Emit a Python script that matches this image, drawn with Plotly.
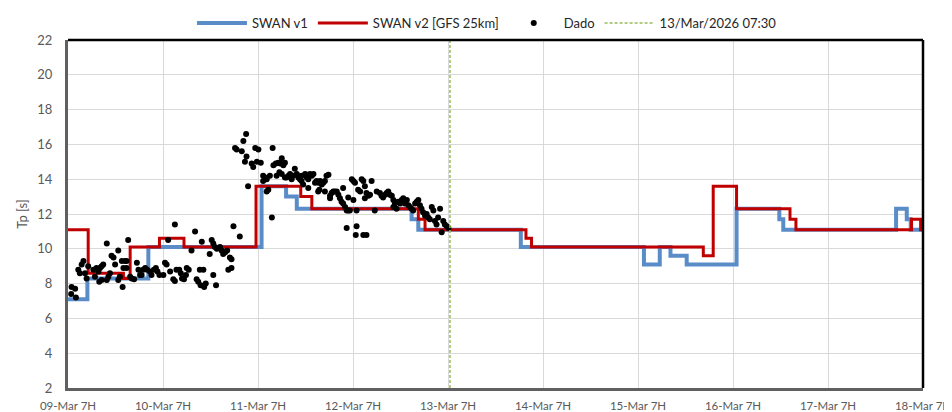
import pandas as pd
import plotly.graph_objects as go

BASE = pd.Timestamp("2026-03-09 07:00")

# SWAN v1 step series: hours after 09-Mar 07:00 at which a new value starts
v1_hours = [0, 4.9, 20.3, 48.9, 55.1, 57.8, 86.8, 88.5, 114.4, 145.5, 149.5, 152.2,
            156.3, 168.9, 179.7, 180.7, 209.2, 211.9, 212.9, 216]
v1_tp = [7.1, 8.3, 10.1, 13.6, 13.0, 12.3, 11.7, 11.1, 10.1, 9.1, 10.1, 9.6,
         9.1, 12.3, 11.7, 11.1, 12.3, 11.7, 11.1, 11.1]

# SWAN v2 [GFS 25km]
v2_hours = [0, 5.1, 14.0, 15.7, 23.1, 29.3, 47.5, 58.8, 61.6, 88.5, 90.2, 115.7,
            117.1, 160.5, 163.0, 168.9, 182.4, 183.9, 213.1, 215.4, 216]
v2_tp = [11.1, 8.6, 8.3, 10.1, 10.6, 10.1, 13.6, 13.0, 12.3, 11.7, 11.1, 10.6,
         10.1, 9.6, 13.6, 12.3, 11.7, 11.1, 11.7, 11.1, 11.1]

# Observations (Dado)
obs = [
    (0.9, 7.8), (1.8, 7.7), (0.8, 7.4), (2.0, 7.2),
    (2.6, 8.8), (3.45, 9.1), (3.9, 9.3), (3.0, 8.6), (4.3, 8.6), (5.1, 9.0), (4.7, 8.3),
    (6.4, 8.8), (7.2, 8.9), (7.7, 8.7), (8.1, 8.9), (8.5, 9.0), (8.9, 9.1), (6.8, 8.4),
    (7.9, 8.1), (8.5, 8.2), (9.8, 8.2), (10.2, 8.4), (10.6, 8.6), (9.8, 10.3), (11.0, 9.6),
    (11.5, 9.5), (11.9, 9.1), (12.7, 9.9), (13.6, 9.3), (14.0, 8.9), (13.1, 8.4), (12.7, 8.2),
    (13.8, 7.8), (14.4, 9.3), (14.8, 9.3), (15.2, 10.5), (14.8, 8.9), (15.7, 8.4), (16.1, 8.3),
    (16.7, 8.25), (17.4, 9.2), (17.8, 8.8), (18.2, 8.5), (18.6, 8.5), (19.0, 8.8), (19.5, 8.9),
    (20.0, 8.8), (20.7, 8.7), (21.1, 8.5), (21.7, 8.8), (22.2, 8.9), (22.6, 8.7), (23.1, 8.5),
    (24.1, 8.5), (24.5, 9.2), (24.9, 9.1), (25.8, 8.7), (26.6, 8.25), (27.0, 8.15), (27.4, 8.8),
    (28.1, 8.8), (28.5, 8.6), (28.8, 8.3), (29.3, 8.25), (29.8, 8.5), (30.0, 8.9), (30.5, 8.8),
    (27.0, 11.4), (25.3, 10.5), (32.1, 11.0), (31.2, 9.9), (32.5, 8.25), (32.9, 8.1), (33.5, 7.9),
    (34.4, 7.8), (34.8, 8.0), (33.3, 8.8), (34.2, 8.8), (36.7, 8.5), (37.4, 7.9), (33.8, 10.4),
    (35.8, 9.7), (36.3, 10.5), (36.7, 10.3), (37.1, 10.1), (37.6, 10.0), (38.4, 10.1), (38.8, 9.9),
    (39.2, 9.7), (39.7, 9.8), (40.2, 9.9), (40.9, 9.5), (41.3, 9.4), (40.5, 8.8), (41.3, 8.9),
    (41.8, 11.3), (43.4, 10.7), (45.5, 13.6), (42.2, 15.8), (42.6, 15.7), (43.9, 15.6),
    (44.7, 15.0), (45.1, 15.3), (46.4, 14.9), (46.8, 14.7), (47.7, 15.0), (47.3, 15.8),
    (48.1, 15.7), (44.3, 16.2), (45.0, 16.6),
    (48.7, 14.95), (49.3, 14.2), (49.8, 14.1), (50.2, 14.0), (51.0, 14.2), (49.3, 13.9),
    (50.6, 13.4), (50.2, 13.3), (51.7, 15.8), (51.5, 11.8),
    (51.9, 14.8), (52.5, 14.9), (53.1, 14.95), (53.6, 14.9), (54.0, 15.2), (54.4, 14.8),
    (54.8, 14.95), (53.4, 14.4), (54.0, 14.3), (52.7, 14.2), (54.8, 14.1), (55.2, 14.1),
    (55.7, 14.2), (56.1, 14.3), (56.5, 14.0), (56.9, 14.2), (57.3, 14.6), (57.8, 14.3),
    (58.2, 14.1), (58.6, 14.0), (59.0, 13.9), (59.4, 13.7), (59.0, 14.2), (59.9, 14.3),
    (60.3, 14.1), (60.7, 14.0), (61.1, 14.3), (61.6, 14.2), (62.0, 14.3), (60.7, 13.5),
    (62.4, 13.8), (62.8, 13.9), (63.2, 13.8), (63.7, 13.9), (64.1, 13.7), (64.5, 13.8),
    (64.9, 13.9), (65.3, 14.2), (65.8, 14.25), (63.2, 13.3), (63.5, 13.4),
    (64.9, 13.3), (66.2, 13.05), (66.6, 13.2), (67.0, 13.3), (67.4, 13.3), (67.9, 13.3),
    (68.3, 13.1), (66.2, 12.9), (68.7, 12.9), (69.1, 12.7), (69.5, 12.6), (70.0, 12.4),
    (69.5, 13.5), (70.4, 12.2), (70.8, 12.2), (71.2, 12.2), (71.7, 14.0), (72.1, 13.9),
    (72.5, 13.8), (70.8, 12.95), (72.1, 12.8), (72.9, 12.2), (73.3, 13.4), (73.8, 13.3),
    (74.2, 14.0), (74.6, 13.9), (75.0, 13.6), (75.4, 13.2), (75.9, 13.05), (76.3, 13.1),
    (75.0, 12.9), (76.7, 13.9), (77.5, 12.2), (78.0, 13.3), (78.8, 13.2), (79.2, 13.05),
    (79.6, 12.95), (80.1, 13.1), (80.5, 13.2), (80.9, 13.3), (81.3, 13.1), (81.8, 13.05),
    (82.2, 12.8), (82.6, 12.6), (82.2, 12.4), (83.0, 12.3), (83.4, 12.7), (83.9, 12.6),
    (84.3, 12.8), (84.7, 12.9), (85.1, 12.6), (85.6, 12.8), (86.0, 12.5), (86.4, 12.4),
    (86.8, 12.3), (87.2, 12.2), (87.7, 12.6), (88.1, 12.7), (88.5, 12.8), (88.9, 12.5),
    (89.3, 12.3), (89.7, 12.1), (90.2, 11.9), (90.6, 12.0), (91.0, 11.8), (91.4, 11.7),
    (91.9, 12.4), (92.3, 12.2), (92.7, 11.6), (93.1, 11.4), (93.5, 11.8), (94.0, 12.3),
    (94.4, 10.95), (94.8, 11.6), (95.2, 11.4), (95.7, 11.3), (96.1, 11.2),
    (70.4, 11.2), (72.9, 11.3), (72.7, 10.8), (74.6, 10.8), (75.4, 10.8),
]
obs_hours = [p[0] for p in obs]
obs_tp = [p[1] for p in obs]

marker_time = pd.Timestamp("2026-03-13 07:30")
marker_label = "13/Mar/2026 07:30"

y_ticks = list(range(2, 23, 2))


def to_time(hours):
    return BASE + pd.to_timedelta(hours, unit="h")


FONT = "Lato, Carlito, Calibri, sans-serif"
GREY = "#595959"

fig = go.Figure()
fig.add_trace(go.Scatter(x=to_time(v1_hours), y=v1_tp, mode="lines", name="SWAN v1",
                         line=dict(color="#5A8CC8", width=4, shape="hv")))
fig.add_trace(go.Scatter(x=to_time(v2_hours), y=v2_tp, mode="lines", name="SWAN v2 [GFS 25km]",
                         line=dict(color="#C00000", width=3, shape="hv")))
fig.add_trace(go.Scatter(x=to_time(obs_hours), y=obs_tp, mode="markers", name="Dado",
                         marker=dict(color="black", size=6)))
fig.add_trace(go.Scatter(x=[marker_time, marker_time], y=[2, 22], mode="lines", name=marker_label,
                         line=dict(color="#9BBB59", width=1.5, dash="3px,2px")))

fig.update_layout(
    width=944, height=404,
    margin=dict(l=60, r=29, t=32, b=24, autoexpand=False),
    paper_bgcolor="white", plot_bgcolor="white",
    font=dict(family=FONT, size=12, color=GREY),
    showlegend=True,
    legend=dict(orientation="h", x=0.49, xanchor="center",
                yref="container", y=1.0, yanchor="top",
                font=dict(family=FONT, size=13, color="#262626"), itemwidth=50,
                bgcolor="rgba(0,0,0,0)"),
    xaxis=dict(
        range=[BASE, BASE + pd.Timedelta(hours=216)],
        tick0=BASE, dtick=86400000, tickformat="%d-%b 7H",
        showgrid=True, gridcolor="#D9D9D9", gridwidth=1,
        showline=True, linecolor="#606060", linewidth=3,
        ticks="", tickfont=dict(size=11.5, color=GREY), zeroline=False,
        automargin=False, ticklabeloverflow="allow", ticklabelstandoff=5,
    ),
    yaxis=dict(
        range=[2, 22], tickvals=y_ticks,
        showgrid=True, gridcolor="#D9D9D9", gridwidth=1,
        showline=True, linecolor="#606060", linewidth=3,
        ticks="", tickfont=dict(size=13, color=GREY), zeroline=False,
        automargin=False, ticklabelstandoff=10,
        title=dict(text="Tp [s]", font=dict(size=13, color=GREY), standoff=7),
    ),
    shapes=[
        dict(type="line", xref="paper", yref="paper", x0=0, x1=1, y0=1, y1=1,
             line=dict(color="black", width=2.5)),
        dict(type="line", xref="paper", yref="paper", x0=1, x1=1, y0=0, y1=1,
             line=dict(color="black", width=2.5)),
    ],
)

fig.write_html("out.html")
